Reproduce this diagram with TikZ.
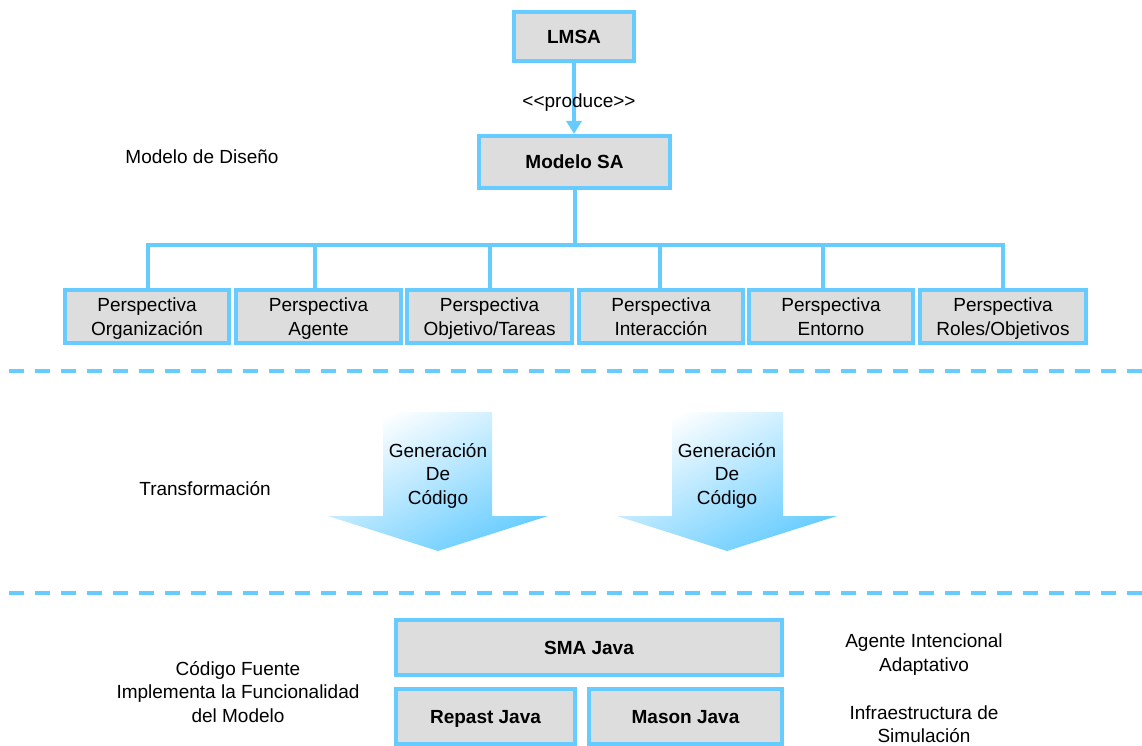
\documentclass[tikz,border=0pt]{standalone}
\usepackage{fontspec}
\setmainfont{Liberation Sans}
\usetikzlibrary{arrows.meta,calc}
\definecolor{edgeblue}{RGB}{102,204,255}
\definecolor{boxgray}{RGB}{221,221,221}
\tikzset{
  % fixed text box sizes (baseline on the last line): caps centred on the node
  txt/.style={align=center,font=\fontsize{19}{23.5}\selectfont,
    text height=13.5pt,text depth=0pt},
  two/.style={text height=37pt},
  three/.style={text height=60.5pt},
  box/.style={draw=edgeblue,line width=4pt,fill=boxgray,inner sep=0pt,txt},
  bbox/.style={box,font=\fontsize{19}{23.5}\selectfont\bfseries},
  link/.style={draw=edgeblue,line width=4pt},
  sep/.style={draw=edgeblue,line width=3.5pt,dash pattern=on 15pt off 11pt},
  genarrow/.style={top color=white,middle color=edgeblue!78!white,
    bottom color=edgeblue,shading angle=28},
}
\begin{document}
\begin{tikzpicture}[x=1pt,y=-1pt]
\useasboundingbox (0,0) rectangle (1142,746);

% top: language and design model
\node[bbox,minimum width=120pt,minimum height=49pt] (lmsa) at (574,36.5) {LMSA};
\node[bbox,minimum width=191pt,minimum height=52pt] (msa) at (574.5,162) {Modelo SA};
\draw[link,-{Triangle[width=15pt,length=13pt]}] (lmsa.south) -- (lmsa.south |- msa.north);
\node[txt] (produce) at (579,101) {<\kern0pt<produce>\kern0pt>};
\node[txt] (lbldis) at (202,157) {Modelo de Diseño};

% perspectives
\node[box,two,minimum width=164pt,minimum height=53pt] (p1) at (147,316.5) {Perspectiva\\Organización};
\node[box,two,minimum width=165pt,minimum height=53pt] (p2) at (318.5,316.5) {Perspectiva\\Agente};
\node[box,two,minimum width=165pt,minimum height=53pt] (p3) at (489.5,316.5) {Perspectiva\\Objetivo/Tareas};
\node[box,two,minimum width=164pt,minimum height=53pt] (p4) at (661,316.5) {Perspectiva\\Interacción};
\node[box,two,minimum width=164pt,minimum height=53pt] (p5) at (831,316.5) {Perspectiva\\Entorno};
\node[box,two,minimum width=166pt,minimum height=53pt] (p6) at (1003,316.5) {Perspectiva\\Roles/Objetivos};

\coordinate (bus) at (574,245);
\draw[link] (msa.south) -- (msa.south |- bus);
\draw[link] ([xshift=1pt]p1.north) -- ([xshift=1pt]p1.north |- bus) -- (p6.north |- bus) -- (p6.north);
\draw[link] ([xshift=-4pt]p2.north) -- ([xshift=-4pt]p2.north |- bus);
\draw[link] (p3.north) -- (p3.north |- bus);
\draw[link] ([xshift=-1pt]p4.north) -- ([xshift=-1pt]p4.north |- bus);
\draw[link] ([xshift=-8pt]p5.north) -- ([xshift=-8pt]p5.north |- bus);

% separators
\coordinate (s1a) at (9,371);
\coordinate (s1b) at (1142,371);
\coordinate (s2a) at (9,593);
\coordinate (s2b) at (1142,593);
\draw[sep] (s1a) -- (s1b);
\draw[sep] (s2a) -- (s2b);

% transformation arrows
\shade[genarrow] (383,412) -- (492,412) -- (492,516) -- (548,516) -- (438,551)
  -- (328,516) -- (383,516) -- cycle;
\shade[genarrow] (672,412) -- (783,412) -- (783,516) -- (837,516) -- (727,551)
  -- (617,516) -- (672,516) -- cycle;
\node[txt,three] (gen1) at (438,474) {Generación\\De\\Código};
\node[txt,three] (gen2) at (727,474) {Generación\\De\\Código};
\node[txt] (lbltr) at (205,489) {Transformación};

% source code level
\node[bbox,minimum width=386pt,minimum height=55pt] (sma) at (589,647.5) {SMA Java};
\node[bbox,minimum width=179pt,minimum height=55pt] (repast) at (485.5,716.5) {Repast Java};
\node[bbox,minimum width=193pt,minimum height=55pt] (mason) at (685.5,716.5) {Mason Java};
\node[txt,three] (lblcod) at (238,692) {Código Fuente\\Implementa la Funcionalidad\\del Modelo};
\node[txt,two] (lblage) at (924,652.5) {Agente Intencional\\Adaptativo};
\node[txt,two] (lblinf) at (924,724) {Infraestructura de\\Simulación};
\end{tikzpicture}
\end{document}
